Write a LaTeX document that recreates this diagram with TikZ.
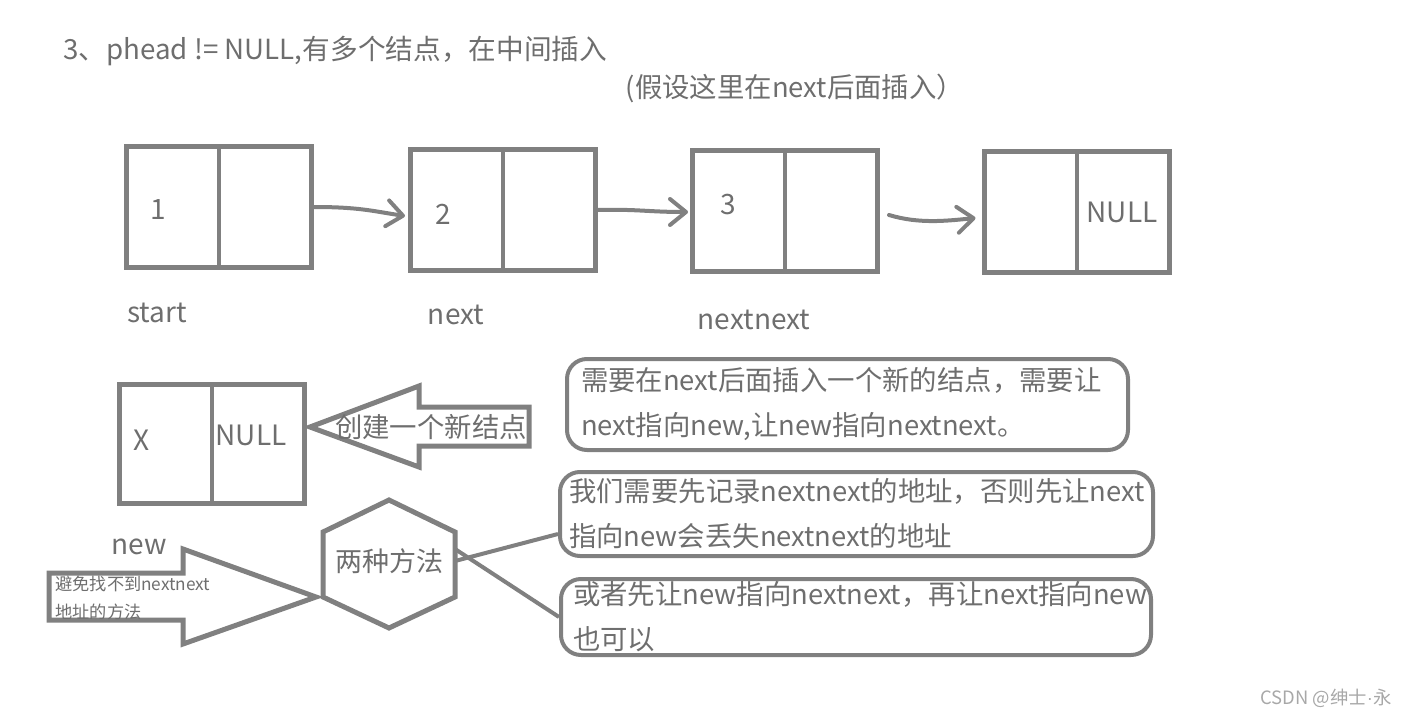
\documentclass[tikz,border=0pt]{standalone}
\usepackage{fontspec}
\setmainfont{Noto Sans CJK SC}
\newfontfamily\dotfont{Liberation Sans}
\usetikzlibrary{arrows.meta,calc,positioning}
\definecolor{linegray}{HTML}{808080}
\definecolor{inkgray}{HTML}{6E6E6E}
\definecolor{markgray}{HTML}{A8A8A8}

\begin{document}
\begin{tikzpicture}[x=0.5pt,y=-0.5pt,
    cell/.style={draw=linegray,line width=2.5pt,minimum width=92.5pt,minimum height=60.5pt,inner sep=0pt},
    word/.style={text=inkgray,inner sep=0pt,font=\fontsize{14}{16}\selectfont},
    handarrow/.style={draw=linegray,line width=2pt,line cap=round,-{Straight Barb[length=8pt,width=13pt,round]}},
    notebox/.style={draw=linegray,line width=2pt,rounded corners=10pt,text=inkgray,align=left,inner ysep=0pt,font=\fontsize{13.7}{22.5}\selectfont},
    outline/.style={draw=linegray,line width=2.5pt,line join=miter}]
  \useasboundingbox (0,0) rectangle (1410,718);

  % headline
  \node[word,anchor=west,font=\fontsize{13.85}{16}\selectfont] (title) at (63,51) {3、phead != NULL,有多个结点，在中间插入};
  \node[word,font=\fontsize{13.7}{16}\selectfont] (hint) at (795,88) {(假设这里在next后面插入）};

  % the list
  \node[cell] (n1) at (219,207) {};
  \node[cell] (n2) at (503,210) {};
  \node[cell] (n3) at (785,211) {};
  \node[cell] (n4) at (1076.5,212) {};
  \node[cell,minimum height=59.5pt] (nw) at (212,444) {};
  \foreach \c in {n1,n2,n3,n4,nw}
    \draw[linegray,line width=2pt] (\c.north) -- (\c.south);

  \node[word] (v1) at (158,210) {1};
  \node[word] (v2) at (443,214) {2};
  \node[word] (v3) at (728,205) {3};
  \node[word] (v4) at (1122,212) {NULL};
  \node[word] (vx) at (142,440) {X};
  \node[word] (vn) at (251,435) {NULL};

  \node[word] (lstart) at (157,313) {start};
  \node[word] (lnext) at (456,315) {next};
  \node[word] (lnn) at (754,320) {nextnext};
  \node[word] (lnew) at (139,547) {new};

  \draw[handarrow] (n1.east) .. controls +(45,0) and +(-33,-5) .. ([shift={(-3,6)}]n2.west);
  \draw[handarrow] (n2.east) .. controls +(40,-1) and +(-40,0) .. ([shift={(-2,1)}]n3.west);
  \draw[handarrow] ([shift={(9,4)}]n3.east) .. controls +(30,9) and +(-30,3) .. ([shift={(-6,6)}]n4.west);

  % create arrow
  \draw[outline] (310,427) -- (419,386) -- (419,407) -- (529,407) -- (529,446) -- (419,446) -- (419,467) -- cycle;
  \node[word,font=\fontsize{13.7}{15}\selectfont] (create) at (431,427) {创建一个新结点};

  % the two ways
  \draw[outline] (389,500) coordinate (hexN) -- (455,532) -- (455,597) -- (389,628) -- (323,597) -- (323,532) -- cycle;
  \coordinate (hexE) at (455,555);
  \node[word,font=\fontsize{13.5}{15}\selectfont] (ways) at (389,561) {两种方法};

  \draw[outline] (49,573) -- (183,573) -- (183,549) -- (316,597) -- (183,644) -- (183,620) -- (49,620) -- cycle;
  \node[word,anchor=west,align=left,font=\fontsize{8.6}{14}\selectfont] (why) at (55,598) {避免找不到nextnext\\地址的方法};

  % notes
  \node[notebox,minimum width=280.5pt,minimum height=45.5pt,text width=266.5pt,inner xsep=7pt] (noteA) at (847.5,404.5)
    {需要在next后面插入一个新的结点，需要让\\next指向new,让new指向nextnext。};
  \node[notebox,minimum width=296.5pt,minimum height=42pt,text width=287.5pt,inner xsep=4.5pt] (noteB) at (856.5,514)
    {我们需要先记录nextnext的地址，否则先让next\\指向new会丢失nextnext的地址};
  \node[notebox,minimum width=295pt,minimum height=38pt,text width=283pt,inner xsep=6pt] (noteC) at (856,617)
    {或者先让new指向nextnext，再让next指向new\\也可以};
  \draw[linegray,line width=2pt] ([yshift=-3]hexE) -- ([yshift=-10]noteB.west);
  \draw[linegray,line width=2pt] ([yshift=3]hexE) -- (noteC.west);

  \node[text=markgray,inner sep=0pt,font=\fontsize{9.2}{11}\selectfont] (mark) at (1326,698) {CSDN @绅士{\dotfont ·}永};
\end{tikzpicture}
\end{document}
